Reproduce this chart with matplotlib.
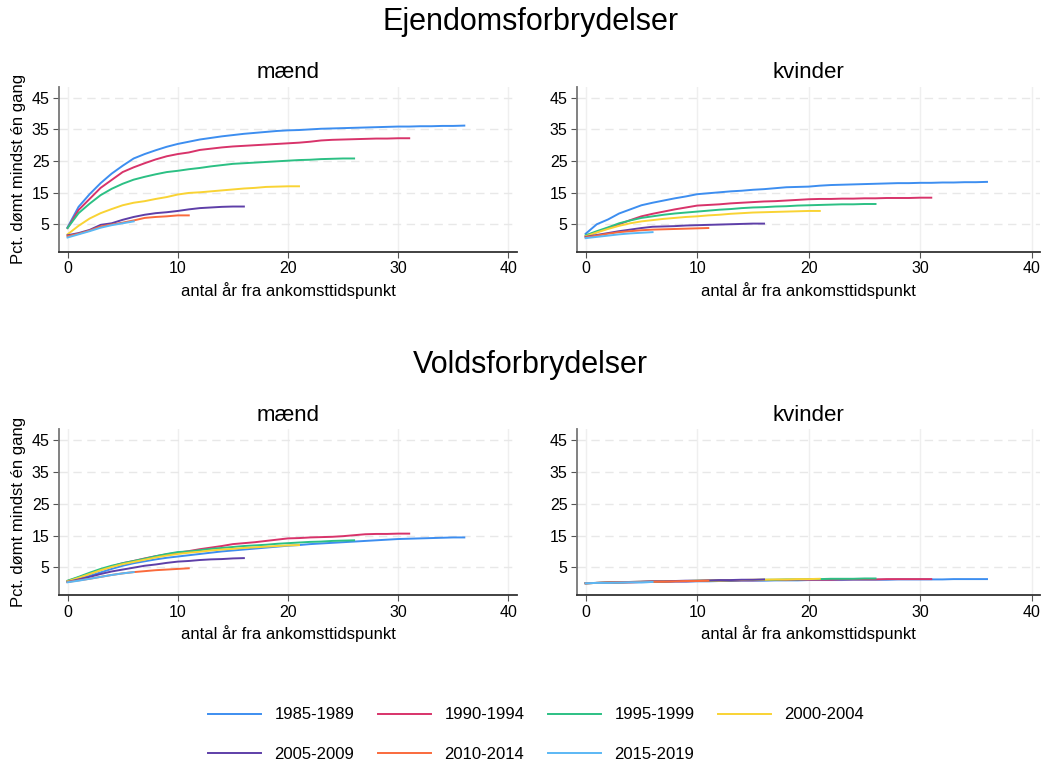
import matplotlib

matplotlib.use("Agg")
import matplotlib.pyplot as plt

plt.rcParams["font.family"] = ["Liberation Sans", "DejaVu Sans"]

cohorts = ["1985-1989", "1990-1994", "1995-1999", "2000-2004",
           "2005-2009", "2010-2014", "2015-2019"]
colors = ["#3d8ef0", "#d8336a", "#2cc084", "#f9d334",
          "#5e3fa8", "#fa6a3c", "#5bb8f5"]

# Ejendomsforbrydelser, mænd
ejendom_maend = [
    [4.0, 10.5, 14.5, 18.0, 21.0, 23.5, 25.8, 27.2, 28.4, 29.5, 30.4, 31.1, 31.8,
     32.3, 32.8, 33.2, 33.6, 33.9, 34.2, 34.5, 34.7, 34.8, 35.0, 35.2, 35.3, 35.4,
     35.5, 35.6, 35.7, 35.8, 35.9, 35.9, 36.0, 36.0, 36.1, 36.1, 36.2],
    [3.8, 9.5, 13.0, 16.5, 19.0, 21.5, 23.0, 24.3, 25.5, 26.5, 27.2, 27.7, 28.5,
     28.9, 29.3, 29.6, 29.8, 30.0, 30.2, 30.4, 30.6, 30.8, 31.1, 31.5, 31.7, 31.8,
     31.9, 32.0, 32.1, 32.1, 32.2, 32.2],
    [3.8, 8.5, 11.5, 14.2, 16.2, 17.8, 19.1, 20.0, 20.8, 21.5, 21.9, 22.4, 22.8,
     23.3, 23.7, 24.1, 24.3, 24.5, 24.7, 24.9, 25.1, 25.3, 25.4, 25.6, 25.7, 25.8, 25.8],
    [1.8, 4.5, 6.8, 8.5, 9.8, 11.0, 11.8, 12.3, 13.0, 13.6, 14.4, 14.9, 15.1, 15.4,
     15.7, 16.0, 16.3, 16.5, 16.8, 16.9, 17.0, 17.0],
    [1.5, 2.2, 3.2, 4.8, 5.3, 6.4, 7.3, 8.0, 8.5, 8.8, 9.2, 9.7, 10.1, 10.3, 10.5, 10.6, 10.6],
    [1.2, 2.0, 3.0, 4.3, 4.9, 5.5, 6.2, 7.0, 7.3, 7.5, 7.8, 7.8],
    [0.8, 1.8, 2.8, 3.9, 4.7, 5.3, 5.9],
]

# Ejendomsforbrydelser, kvinder
ejendom_kvinder = [
    [2.0, 5.0, 6.5, 8.4, 9.7, 11.0, 11.8, 12.5, 13.2, 13.8, 14.5, 14.8, 15.1, 15.4,
     15.6, 15.9, 16.1, 16.4, 16.7, 16.8, 16.9, 17.2, 17.4, 17.5, 17.6, 17.7, 17.8,
     17.9, 18.0, 18.0, 18.1, 18.1, 18.2, 18.2, 18.3, 18.3, 18.4],
    [1.2, 2.5, 3.8, 5.0, 6.3, 7.5, 8.3, 9.0, 9.7, 10.3, 10.9, 11.1, 11.3, 11.6, 11.8,
     12.0, 12.2, 12.3, 12.5, 12.7, 12.9, 13.0, 13.0, 13.1, 13.1, 13.2, 13.2, 13.3,
     13.3, 13.3, 13.4, 13.4],
    [1.5, 2.8, 4.0, 5.3, 6.2, 7.0, 7.5, 8.0, 8.4, 8.7, 9.0, 9.3, 9.6, 9.8, 10.1, 10.3,
     10.4, 10.6, 10.7, 10.9, 11.0, 11.1, 11.2, 11.3, 11.3, 11.4, 11.4],
    [1.2, 2.4, 3.5, 4.5, 5.3, 5.9, 6.3, 6.7, 7.0, 7.3, 7.5, 7.8, 8.0, 8.3, 8.5, 8.7,
     8.8, 8.9, 9.0, 9.1, 9.2, 9.2],
    [1.0, 1.6, 2.2, 2.8, 3.3, 3.8, 4.2, 4.3, 4.4, 4.6, 4.7, 4.8, 4.9, 5.0, 5.1, 5.2, 5.2],
    [0.8, 1.4, 2.0, 2.5, 2.8, 3.1, 3.3, 3.4, 3.5, 3.6, 3.7, 3.8],
    [0.6, 1.0, 1.4, 1.8, 2.1, 2.3, 2.5],
]

# Voldsforbrydelser, mænd
vold_maend = [
    [0.4, 1.3, 2.3, 3.4, 4.5, 5.5, 6.3, 6.9, 7.5, 8.0, 8.4, 8.8, 9.2, 9.6, 10.0, 10.3,
     10.6, 10.9, 11.2, 11.5, 11.8, 12.0, 12.3, 12.5, 12.7, 12.9, 13.1, 13.3, 13.5,
     13.7, 13.9, 14.0, 14.1, 14.2, 14.3, 14.4, 14.4],
    [0.7, 1.8, 3.0, 4.2, 5.3, 6.3, 7.0, 7.8, 8.5, 9.1, 9.6, 10.1, 10.7, 11.2, 11.7,
     12.3, 12.6, 12.9, 13.3, 13.7, 14.1, 14.2, 14.4, 14.5, 14.6, 14.8, 15.1, 15.4,
     15.5, 15.5, 15.6, 15.6],
    [0.8, 2.0, 3.3, 4.5, 5.5, 6.3, 7.0, 7.7, 8.5, 9.2, 9.8, 10.0, 10.4, 10.8, 11.1,
     11.4, 11.7, 11.9, 12.1, 12.4, 12.6, 12.8, 13.0, 13.1, 13.3, 13.4, 13.5],
    [0.6, 1.7, 2.9, 4.1, 5.1, 6.0, 6.7, 7.4, 8.1, 8.7, 9.2, 9.6, 9.9, 10.3, 10.6, 10.8,
     11.1, 11.3, 11.5, 11.7, 11.9, 12.0],
    [0.4, 1.2, 2.0, 2.9, 3.7, 4.3, 4.9, 5.5, 5.9, 6.4, 6.8, 7.0, 7.3, 7.5, 7.6, 7.8, 7.9],
    [0.4, 0.9, 1.4, 2.0, 2.6, 3.1, 3.5, 3.8, 4.1, 4.3, 4.5, 4.7],
    [0.3, 0.8, 1.4, 2.0, 2.6, 3.1, 3.5],
]

# Voldsforbrydelser, kvinder
vold_kvinder = [
    [0.0, 0.1, 0.2, 0.2, 0.3, 0.3, 0.4, 0.4, 0.5, 0.5, 0.6, 0.6, 0.7, 0.7, 0.8, 0.8,
     0.8, 0.9, 0.9, 0.9, 1.0, 1.0, 1.0, 1.0, 1.1, 1.1, 1.1, 1.1, 1.2, 1.2, 1.2, 1.2,
     1.2, 1.3, 1.3, 1.3, 1.3],
    [0.0, 0.1, 0.2, 0.3, 0.3, 0.4, 0.5, 0.5, 0.6, 0.6, 0.7, 0.7, 0.8, 0.8, 0.9, 0.9,
     1.0, 1.0, 1.0, 1.1, 1.1, 1.1, 1.1, 1.2, 1.2, 1.2, 1.2, 1.3, 1.3, 1.3, 1.3, 1.3],
    [0.0, 0.1, 0.2, 0.3, 0.4, 0.4, 0.5, 0.6, 0.7, 0.7, 0.8, 0.8, 0.9, 0.9, 1.0, 1.0,
     1.1, 1.1, 1.2, 1.2, 1.3, 1.3, 1.4, 1.4, 1.4, 1.5, 1.5],
    [0.0, 0.1, 0.2, 0.3, 0.4, 0.5, 0.5, 0.6, 0.7, 0.7, 0.8, 0.9, 0.9, 1.0, 1.0, 1.1,
     1.1, 1.2, 1.2, 1.3, 1.3, 1.4],
    [0.0, 0.1, 0.2, 0.3, 0.4, 0.5, 0.6, 0.6, 0.7, 0.8, 0.8, 0.9, 1.0, 1.0, 1.1, 1.1, 1.2],
    [0.0, 0.1, 0.2, 0.3, 0.3, 0.4, 0.5, 0.5, 0.6, 0.7, 0.7, 0.8],
    [0.0, 0.1, 0.1, 0.2, 0.3, 0.3, 0.4],
]

xticks = [0, 10, 20, 30, 40]
yticks = [5, 15, 25, 35, 45]
xlabel = "antal år fra ankomsttidspunkt"
ylabel = "Pct. dømt mindst én gang"


def draw_panel(ax, series, title, show_ylabel):
    for name, color, values in zip(cohorts, colors, series):
        ax.plot(range(len(values)), values, color=color, lw=1.4, label=name)
    ax.set_xlim(-0.75, 40.75)
    ax.set_ylim(-3.7, 48.5)
    ax.set_xticks(xticks)
    ax.set_yticks(yticks)
    ax.grid(axis="y", color="#e8e8e8", lw=1.0, dashes=(6, 4))
    ax.grid(axis="x", color="#efefef", lw=1.0)
    ax.set_axisbelow(True)
    for side in ["top", "right"]:
        ax.spines[side].set_visible(False)
    ax.spines["left"].set_color("#777777")
    ax.spines["bottom"].set_color("#333333")
    ax.spines["left"].set_linewidth(1.3)
    ax.spines["bottom"].set_linewidth(1.3)
    ax.tick_params(labelsize=11.5, length=4, color="#555555", pad=3)
    ax.set_xlabel(xlabel, fontsize=12, labelpad=4)
    if show_ylabel:
        ax.set_ylabel(ylabel, fontsize=12, labelpad=4)
    ax.set_title(title, fontsize=16, pad=6)


fig = plt.figure(figsize=(10.51, 7.64), dpi=100)
ax1 = fig.add_axes([0.0564, 0.6705, 0.4352, 0.216])
ax2 = fig.add_axes([0.5493, 0.6705, 0.4402, 0.216])
ax3 = fig.add_axes([0.0564, 0.2212, 0.4352, 0.2173])
ax4 = fig.add_axes([0.5493, 0.2212, 0.4402, 0.2173])

draw_panel(ax1, ejendom_maend, "mænd", True)
draw_panel(ax2, ejendom_kvinder, "kvinder", False)
draw_panel(ax3, vold_maend, "mænd", True)
draw_panel(ax4, vold_kvinder, "kvinder", False)

fig.text(0.505, 1 - 22 / 764, "Ejendomsforbrydelser", fontsize=22, ha="center", va="center")
fig.text(0.505, 1 - 365 / 764, "Voldsforbrydelser", fontsize=22, ha="center", va="center")

# matplotlib fills legend columns first; reorder so the rows read left to right
handles, labels = ax1.get_legend_handles_labels()
order = [0, 4, 1, 5, 2, 6, 3]
fig.legend([handles[i] for i in order], [labels[i] for i in order],
           loc="center", bbox_to_anchor=(0.51, 0.0386), ncol=4,
           frameon=False, fontsize=12, handlelength=3.2, handletextpad=0.8,
           columnspacing=1.4, labelspacing=1.45)

fig.savefig("out.png", dpi=100, facecolor="white")
